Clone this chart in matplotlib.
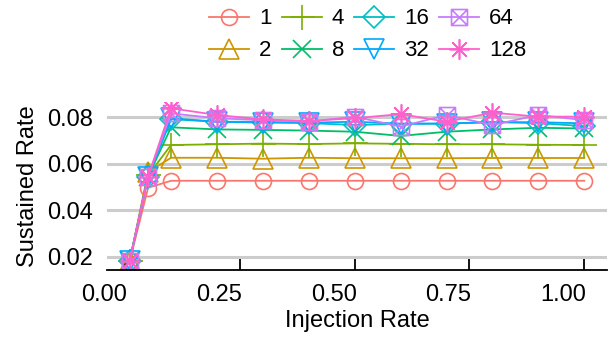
import matplotlib
matplotlib.use("Agg")
import matplotlib.pyplot as plt
from matplotlib.path import Path
from matplotlib.transforms import ScaledTranslation

plt.rcParams["font.family"] = ["Liberation Sans", "DejaVu Sans"]

injection = [0.01, 0.05, 0.1, 0.2, 0.3, 0.4, 0.5, 0.6, 0.7, 0.8, 0.9, 1.0]
labels = ["1", "2", "4", "8", "16", "32", "64", "128"]
colors = ["#F8766D", "#CD9600", "#7CAE00", "#00BE67",
          "#00BFC4", "#00A9FF", "#C77CFF", "#FF61CC"]

rate_1 = [0.0182, 0.0497, 0.0527, 0.0527, 0.0527, 0.0527, 0.0527, 0.0527, 0.0527, 0.0527, 0.0527, 0.0527]
rate_2 = [0.0180, 0.0565, 0.0626, 0.0626, 0.0622, 0.0626, 0.0624, 0.0624, 0.0624, 0.0625, 0.0625, 0.0625]
rate_4 = [0.0182, 0.0550, 0.0681, 0.0684, 0.0687, 0.0685, 0.0688, 0.0686, 0.0684, 0.0684, 0.0682, 0.0681]
rate_8 = [0.0182, 0.0545, 0.0757, 0.0748, 0.0746, 0.0743, 0.0738, 0.0720, 0.0738, 0.0748, 0.0755, 0.0752]
rate_16 = [0.0182, 0.0545, 0.0792, 0.0781, 0.0781, 0.0775, 0.0767, 0.0772, 0.0773, 0.0780, 0.0775, 0.0762]
rate_32 = [0.0182, 0.0545, 0.0796, 0.0781, 0.0777, 0.0777, 0.0781, 0.0773, 0.0773, 0.0779, 0.0779, 0.0774]
rate_64 = [0.0182, 0.0545, 0.0817, 0.0796, 0.0788, 0.0781, 0.0803, 0.0760, 0.0810, 0.0767, 0.0810, 0.0788]
rate_128 = [0.0182, 0.0545, 0.0839, 0.0810, 0.0791, 0.0785, 0.0796, 0.0814, 0.0781, 0.0820, 0.0803, 0.0803]
rates = [rate_1, rate_2, rate_4, rate_8, rate_16, rate_32, rate_64, rate_128]

# square with a cross inside (ggplot shape 7)
boxx = Path([(-1, -1), (1, -1), (1, 1), (-1, 1), (-1, -1),
             (-1, -1), (1, 1), (-1, 1), (1, -1)],
            [Path.MOVETO, Path.LINETO, Path.LINETO, Path.LINETO, Path.CLOSEPOLY,
             Path.MOVETO, Path.LINETO, Path.MOVETO, Path.LINETO])
markers = ["o", "^", "+", "x", "D", "v", boxx, (8, 2, 0)]
msizes = [11.5, 15, 18, 13.5, 11.5, 15, 11.5, 14.5]

fig = plt.figure(figsize=(6.16, 3.41), dpi=100)
ax = fig.add_axes([107 / 616, 71 / 341, 500 / 616, 168 / 341])

for y, lab, c, m, ms in zip(rates, labels, colors, markers, msizes):
    ax.plot(injection, y, color=c, lw=1.3, marker=m, ms=ms,
            mfc="none", mec=c, mew=1.2, label=lab)

ax.set_xlim(-0.0395, 1.0495)
ax.set_ylim(0.0143, 0.0866)
ax.set_xticks([0, 0.25, 0.5, 0.75, 1.0])
ax.set_xticklabels(["0.00", "0.25", "0.50", "0.75", "1.00"])
ax.set_yticks([0.02, 0.04, 0.06, 0.08])
ax.set_yticklabels(["0.02", "0.04", "0.06", "0.08"])
ax.grid(axis="y", color="#cccccc", lw=2.2)
ax.set_axisbelow(True)
for s in ["top", "right", "left"]:
    ax.spines[s].set_visible(False)
ax.spines["bottom"].set_linewidth(1.3)
ax.tick_params(axis="x", direction="in", length=8.5, width=1.3, pad=10, labelsize=17)
ax.tick_params(axis="y", length=0, pad=10, labelsize=17)
ax.set_xlabel("Injection Rate", fontsize=17, labelpad=3)
ax.set_ylabel("Sustained Rate", fontsize=17, labelpad=6)

# x tick labels sit left of their ticks in the original
shift = ScaledTranslation(-0.21, 0, fig.dpi_scale_trans)
for t in ax.xaxis.get_major_ticks():
    t.label1.set_transform(t.label1.get_transform() + shift)

fig.legend(loc="upper left", bbox_to_anchor=(196 / 616, 1 + 5 / 341), ncol=4,
           frameon=False, fontsize=16, handlelength=1.8, handletextpad=0.45,
           columnspacing=0.45, labelspacing=0.5, borderpad=0.1)

fig.savefig("out.png", dpi=100)
